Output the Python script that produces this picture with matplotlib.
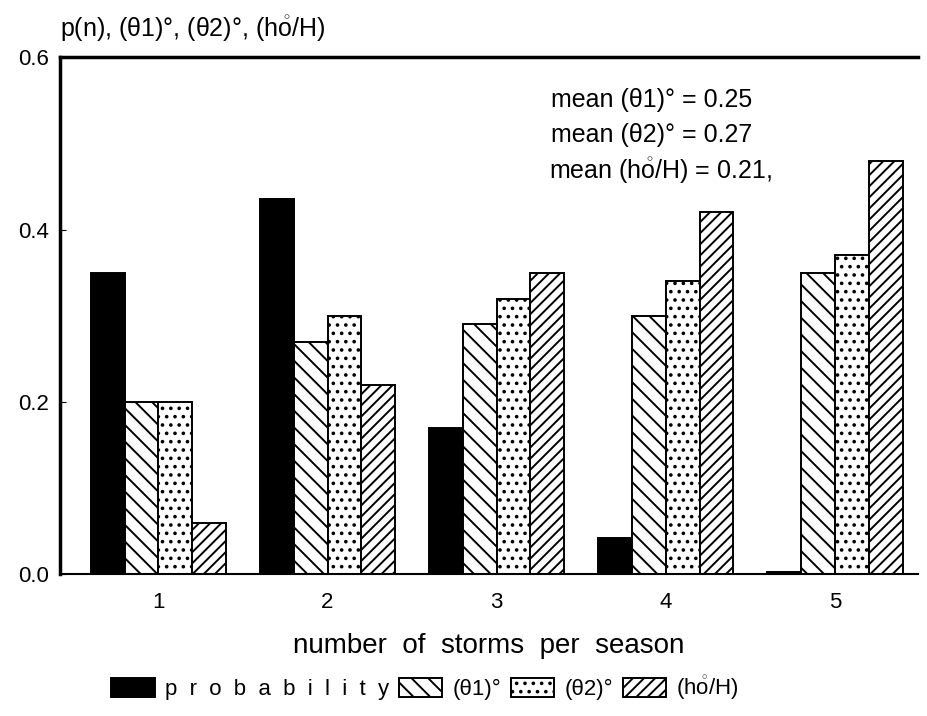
import matplotlib.pyplot as plt
import numpy as np

plt.rcParams["font.family"] = ["Liberation Sans", "DejaVu Sans"]
plt.rcParams["hatch.linewidth"] = 1.4
plt.rcParams["mathtext.fontset"] = "custom"
plt.rcParams["mathtext.rm"] = "Liberation Sans"

storms = [1, 2, 3, 4, 5]
probability = [0.35, 0.435, 0.17, 0.042, 0.003]
theta1 = [0.20, 0.27, 0.29, 0.30, 0.35]
theta2 = [0.20, 0.30, 0.32, 0.34, 0.37]
ho_h = [0.06, 0.22, 0.35, 0.42, 0.48]

labels = ["p  r  o  b  a  b  i  l  i  t  y", "(θ1)°", "(θ2)°", r"(h$\mathring{\rm o}$/H)"]
hatches = [None, "\\\\", "..", "///"]
colors = ["black", "white", "white", "white"]

x = np.array(storms)
width = 0.2
offsets = [-1.5, -0.5, 0.5, 1.5]

fig = plt.figure(figsize=(9.28, 7.16), dpi=100)
ax = fig.add_axes([0.065, 0.198, 0.924, 0.722])

for vals, off, h, c, lab in zip([probability, theta1, theta2, ho_h], offsets, hatches, colors, labels):
    ax.bar(x + off * width, vals, width, color=c, edgecolor="black", hatch=h,
           linewidth=1.4, label=lab)

ax.set_xlim(0.42, 5.49)
ax.set_ylim(0, 0.6)
ax.set_xticks(storms)
ax.set_yticks([0.0, 0.2, 0.4, 0.6])
ax.set_yticklabels(["0.0", "0.2", "0.4", "0.6"])
ax.tick_params(axis="y", direction="in", length=4, labelsize=16, pad=8)
ax.tick_params(axis="x", length=0, labelsize=16, pad=13)
ax.spines["right"].set_visible(False)
ax.spines["left"].set_linewidth(2.5)
ax.spines["top"].set_linewidth(2.5)
ax.spines["bottom"].set_linewidth(1.5)

ax.set_xlabel("number  of  storms  per  season", fontsize=20, labelpad=14)
ax.text(0.0, 1.025, r"p(n), (θ1)°, (θ2)°, (h$\mathring{\rm o}$/H)", transform=ax.transAxes,
        fontsize=18, ha="left", va="bottom")

ax.text(0.69, 0.917, "mean (θ1)° = 0.25", transform=ax.transAxes, fontsize=18,
        ha="center", va="center")
ax.text(0.69, 0.849, "mean (θ2)° = 0.27", transform=ax.transAxes, fontsize=18,
        ha="center", va="center")
ax.text(0.70, 0.781, r"mean (h$\mathring{\rm o}$/H) = 0.21,", transform=ax.transAxes,
        fontsize=18, ha="center", va="center")

fig.legend(loc="lower center", bbox_to_anchor=(0.458, -0.008), ncol=4, frameon=False,
           fontsize=16, handlelength=1.95, handleheight=0.95, columnspacing=0.45,
           handletextpad=0.45)

plt.savefig("out.png", dpi=100)
